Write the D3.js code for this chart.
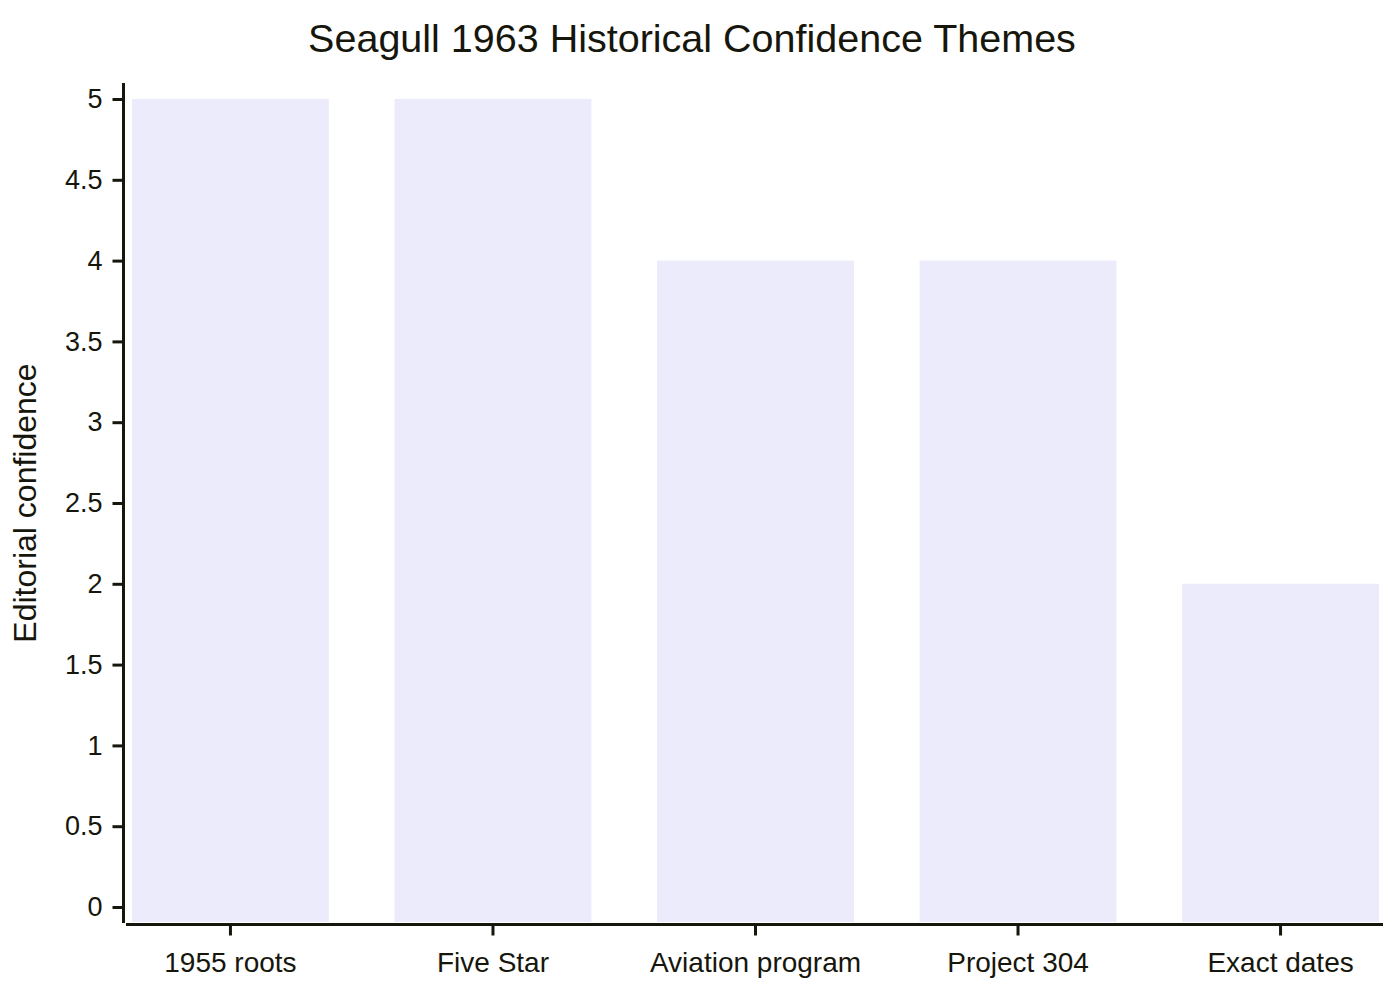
<!DOCTYPE html>
<html>
<head>
<meta charset="utf-8">
<script src="https://cdn.jsdelivr.net/npm/d3@7"></script>
<style>
  body { margin: 0; background: #fff; }
  text { font-family: "Liberation Sans", Arial, sans-serif; fill: #16160c; }
</style>
</head>
<body>
<svg id="chart" width="1400" height="1000"></svg>
<script>
const themes = ['1955 roots', 'Five Star', 'Aviation program', 'Project 304', 'Exact dates'];
const confidence = [5, 5, 4, 4, 2];
const yTicks = [0, 0.5, 1, 1.5, 2, 2.5, 3, 3.5, 4, 4.5, 5];

const ink = '#16160c';

// plot area
const plotLeft = 126, plotRight = 1383, plotTop = 83, plotBottom = 923;

const svg = d3.select('#chart');

const x = d3.scaleBand()
  .domain(themes)
  .range([plotLeft + 6, plotRight - 4])
  .paddingInner(0.25)
  .paddingOuter(0);

const y = d3.scaleLinear()
  .domain([0, 5])
  .range([plotBottom - 16, plotTop + 16]);

// bars run to the bottom of the plot, a little past zero
svg.append('g').selectAll('rect')
  .data(confidence)
  .enter().append('rect')
    .attr('x', (d, i) => x(themes[i]))
    .attr('width', x.bandwidth())
    .attr('y', d => y(d))
    .attr('height', d => plotBottom - 1 - y(d))
    .attr('fill', '#ebebfc');

// y axis
const yAxis = svg.append('g')
  .attr('transform', `translate(${plotLeft - 2.5},0)`)
  .call(d3.axisLeft(y).tickValues(yTicks).tickSize(11).tickPadding(10)
    .tickFormat(d3.format('')));
yAxis.select('.domain').remove();
yAxis.append('line')
  .attr('y1', plotTop).attr('y2', plotBottom)
  .attr('stroke', ink).attr('stroke-width', 3);
yAxis.selectAll('.tick line').attr('stroke', ink).attr('stroke-width', 3);
yAxis.selectAll('.tick text').style('font-size', '27px').attr('fill', ink);

// x axis
const xAxis = svg.append('g')
  .attr('transform', `translate(0,${plotBottom + 1.5})`)
  .call(d3.axisBottom(x).tickSize(11).tickPadding(17));
xAxis.select('.domain').remove();
xAxis.append('line')
  .attr('x1', plotLeft).attr('x2', plotRight)
  .attr('stroke', ink).attr('stroke-width', 3);
xAxis.selectAll('.tick line').attr('stroke', ink).attr('stroke-width', 3);
xAxis.selectAll('.tick text').style('font-size', '28px').attr('fill', ink);

// axis title
svg.append('text')
  .attr('transform', `translate(36,${(plotTop + plotBottom) / 2}) rotate(-90)`)
  .attr('text-anchor', 'middle')
  .style('font-size', '32px')
  .text('Editorial confidence');

// chart title
svg.append('text')
  .attr('x', 692)
  .attr('y', 52)
  .attr('text-anchor', 'middle')
  .style('font-size', '39.5px')
  .text('Seagull 1963 Historical Confidence Themes');
</script>
</body>
</html>
